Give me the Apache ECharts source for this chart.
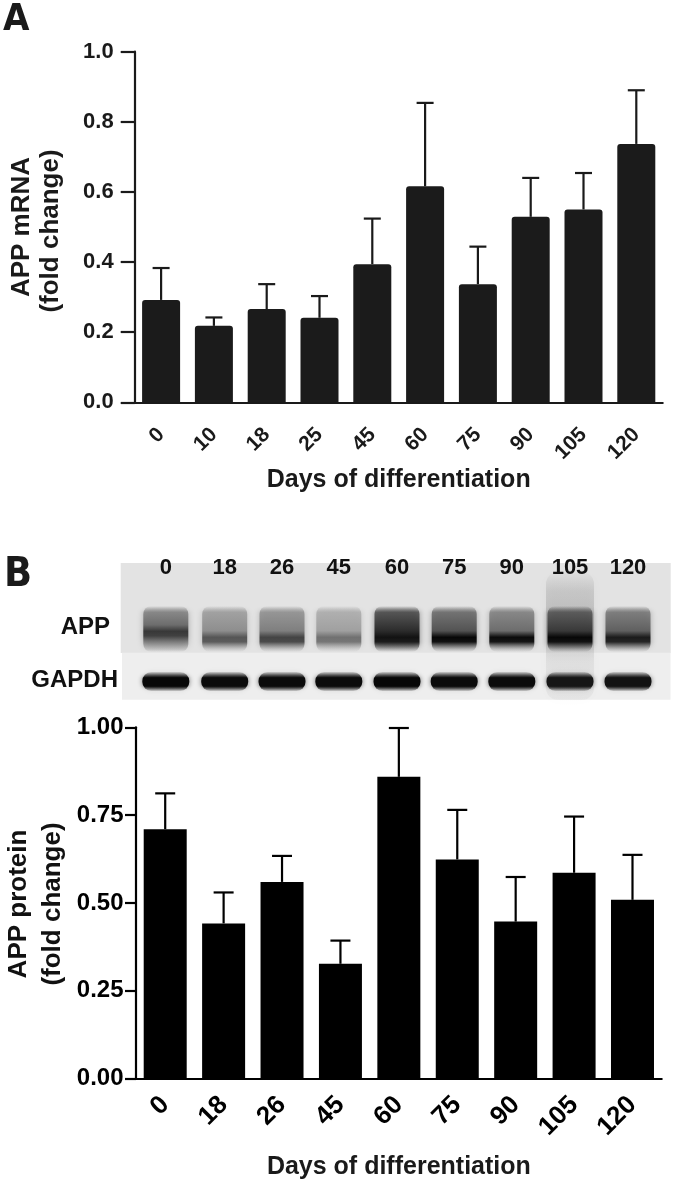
<!DOCTYPE html>
<html>
<head>
<meta charset="utf-8">
<script src="https://cdn.jsdelivr.net/npm/echarts@6/dist/echarts.min.js"></script>
<style>
html,body{margin:0;padding:0;background:#fff;}
#chart{width:675px;height:1182px;}
</style>
</head>
<body>
<div id="chart"></div>
<script>
// ---- Data ----
const categoriesA = ['0', '10', '18', '25', '45', '60', '75', '90', '105', '120'];
const mrnaMean = [0.292, 0.218, 0.266, 0.241, 0.394, 0.616, 0.337, 0.529, 0.550, 0.737];
const mrnaErr  = [0.091, 0.024, 0.071, 0.062, 0.130, 0.238, 0.107, 0.111, 0.104, 0.153];

const categoriesB = ['0', '18', '26', '45', '60', '75', '90', '105', '120'];
const proteinMean = [0.710, 0.442, 0.560, 0.327, 0.859, 0.624, 0.447, 0.586, 0.509];
const proteinErr  = [0.102, 0.088, 0.074, 0.066, 0.139, 0.141, 0.127, 0.160, 0.128];

const yTicksA = [0, 0.2, 0.4, 0.6, 0.8, 1.0];
const yTicksB = [0, 0.25, 0.5, 0.75, 1.0];

// Western blot lanes (labels + relative band darkness)
const blotLanes   = ['0', '18', '26', '45', '60', '75', '90', '105', '120'];
const appSmear    = [0.45, 0.32, 0.38, 0.25, 0.70, 0.55, 0.45, 0.65, 0.50];
const appBand     = [0.75, 0.62, 0.70, 0.50, 0.92, 0.97, 0.95, 0.97, 0.88];
const gapdhBand   = [0.97, 0.95, 0.95, 0.95, 0.97, 0.95, 0.95, 0.90, 0.92];

// ---- Layout ----
const FONT = "'Liberation Sans', Arial, sans-serif";
const chart = echarts.init(document.getElementById('chart'), null, {renderer: 'canvas'});

function errSeries(means, errs, xi, yi, capHalf, color) {
  return {
    type: 'custom',
    xAxisIndex: xi, yAxisIndex: yi,
    z: 3,
    encode: {x: 0, y: [1, 2]},
    data: means.map((m, i) => [i, m, m + errs[i]]),
    renderItem: function (params, api) {
      const x = api.value(0);
      const p0 = api.coord([x, api.value(1)]);
      const p1 = api.coord([x, api.value(2)]);
      const st = {stroke: color, lineWidth: 2.2};
      return {
        type: 'group',
        children: [
          {type: 'line', shape: {x1: p0[0], y1: p0[1], x2: p1[0], y2: p1[1]}, style: st},
          {type: 'line', shape: {x1: p0[0] - capHalf, y1: p1[1], x2: p0[0] + capHalf, y2: p1[1]}, style: st}
        ]
      };
    }
  };
}

// blot graphics
const laneX = [165.8, 224.7, 282, 338.8, 397, 454.2, 511.8, 570, 628];
const laneW = 45;
const blot = [];
blot.push({type: 'rect', shape: {x: 120.7, y: 563, width: 550, height: 90}, style: {fill: '#e3e3e3'}, z: 1});
blot.push({type: 'rect', shape: {x: 122, y: 652.7, width: 548.5, height: 47}, style: {fill: '#eeeeee'}, z: 1});
// smear in lane 105
blot.push({
  type: 'rect', shape: {x: laneX[7] - 24, y: 572, width: 48, height: 128, r: 12},
  style: {
    fill: {type: 'linear', x: 0, y: 0, x2: 0, y2: 1, colorStops: [
      {offset: 0, color: 'rgba(120,120,120,0.03)'},
      {offset: 0.15, color: 'rgba(120,120,120,0.22)'},
      {offset: 0.45, color: 'rgba(110,110,110,0.32)'},
      {offset: 0.7, color: 'rgba(140,140,140,0.12)'},
      {offset: 1, color: 'rgba(140,140,140,0.08)'}
    ]},
    shadowBlur: 8, shadowColor: 'rgba(120,120,120,0.3)'
  }, z: 2
});
blotLanes.forEach((lab, i) => {
  const cx = laneX[i];
  const s = appSmear[i], b = appBand[i];
  const bandPos = i === 0 ? 0.55 : 0.68;
  const g = v => Math.round(225 * (1 - Math.min(v, 1)));
  blot.push({
    type: 'rect', shape: {x: cx - laneW / 2, y: 606, width: laneW, height: 46, r: 8},
    style: {
      fill: {type: 'linear', x: 0, y: 0, x2: 0, y2: 1, colorStops: [
        {offset: 0, color: `rgba(${g(s)},${g(s)},${g(s)},0)`},
        {offset: 0.14, color: `rgba(${g(s)},${g(s)},${g(s)},0.8)`},
        {offset: bandPos - 0.14, color: `rgb(${g(s * 1.15)},${g(s * 1.15)},${g(s * 1.15)})`},
        {offset: bandPos, color: `rgb(${g(b)},${g(b)},${g(b)})`},
        {offset: bandPos + 0.1, color: `rgb(${g(b * 0.95)},${g(b * 0.95)},${g(b * 0.95)})`},
        {offset: 0.94, color: `rgba(${g(s)},${g(s)},${g(s)},0.25)`},
        {offset: 1, color: `rgba(${g(s)},${g(s)},${g(s)},0)`}
      ]},
      shadowBlur: 6, shadowColor: `rgba(${g(s)},${g(s)},${g(s)},0.6)`
    }, z: 3
  });
  const k = g(gapdhBand[i]);
  blot.push({
    type: 'rect', shape: {x: cx - laneW / 2 - 1, y: 672, width: laneW + 2, height: 19, r: 9},
    style: {
      fill: {type: 'linear', x: 0, y: 0, x2: 0, y2: 1, colorStops: [
        {offset: 0, color: 'rgba(60,60,60,0.15)'},
        {offset: 0.3, color: `rgb(${k},${k},${k})`},
        {offset: 0.75, color: `rgb(${k},${k},${k})`},
        {offset: 1, color: 'rgba(60,60,60,0.15)'}
      ]},
      shadowBlur: 5, shadowColor: 'rgba(0,0,0,0.5)'
    }, z: 3
  });
  blot.push({
    type: 'text', x: cx, y: 568, z: 5,
    style: {text: lab, fontFamily: FONT, fontWeight: 'bold', fontSize: 22, fill: '#111', align: 'center', verticalAlign: 'middle'}
  });
});

const option = {
  animation: false,
  backgroundColor: '#ffffff',
  grid: [
    {left: 134.7, top: 51.7, width: 528, height: 350.6},
    {left: 136, top: 727.3, width: 525.7, height: 351.4}
  ],
  xAxis: [
    {
      type: 'category', gridIndex: 0, data: categoriesA,
      name: 'Days of differentiation', nameLocation: 'middle', nameGap: 65,
      nameTextStyle: {fontFamily: FONT, fontWeight: 'bold', fontSize: 25, color: '#1a1a1a'},
      axisLine: {lineStyle: {color: '#1a1a1a', width: 2.2}},
      axisTick: {alignWithLabel: true, length: 14, lineStyle: {color: '#1a1a1a', width: 2.2}},
      axisLabel: {rotate: 45, margin: 29, fontFamily: FONT, fontWeight: 'bold', fontSize: 21, color: '#1a1a1a'}
    },
    {
      type: 'category', gridIndex: 1, data: categoriesB,
      name: 'Days of differentiation', nameLocation: 'middle', nameGap: 76,
      nameTextStyle: {fontFamily: FONT, fontWeight: 'bold', fontSize: 25, color: '#1a1a1a'},
      axisLine: {lineStyle: {color: '#000', width: 2.2}},
      axisTick: {alignWithLabel: true, length: 11, lineStyle: {color: '#000', width: 2.2}},
      axisLabel: {rotate: 45, margin: 22, fontFamily: FONT, fontWeight: 'bold', fontSize: 26, color: '#000'}
    }
  ],
  yAxis: [
    {
      type: 'value', gridIndex: 0, min: 0, max: 1, interval: 0.2,
      axisLine: {show: true, lineStyle: {color: '#1a1a1a', width: 2.2}},
      axisTick: {show: true, length: 14, lineStyle: {color: '#1a1a1a', width: 2.2}},
      splitLine: {show: false},
      axisLabel: {margin: 21, fontFamily: FONT, fontWeight: 'bold', fontSize: 22, color: '#1a1a1a',
        formatter: v => yTicksA.some(t => Math.abs(t - v) < 1e-9) ? v.toFixed(1) : ''}
    },
    {
      type: 'value', gridIndex: 1, min: 0, max: 1, interval: 0.25,
      axisLine: {show: true, lineStyle: {color: '#000', width: 2.2}},
      axisTick: {show: true, length: 11, lineStyle: {color: '#000', width: 2.2}},
      splitLine: {show: false},
      axisLabel: {margin: 12.5, fontFamily: FONT, fontWeight: 'bold', fontSize: 24, color: '#000',
        formatter: v => yTicksB.some(t => Math.abs(t - v) < 1e-9) ? v.toFixed(2) : ''}
    }
  ],
  series: [
    {
      type: 'bar', xAxisIndex: 0, yAxisIndex: 0, data: mrnaMean, barWidth: 38, z: 4,
      itemStyle: {color: '#1b1b1b', borderRadius: [3, 3, 0, 0]}
    },
    errSeries(mrnaMean, mrnaErr, 0, 0, 8.5, '#1a1a1a'),
    {
      type: 'bar', xAxisIndex: 1, yAxisIndex: 1, data: proteinMean, barWidth: 43, z: 4,
      itemStyle: {color: '#000'}
    },
    errSeries(proteinMean, proteinErr, 1, 1, 10, '#000')
  ],
  graphic: [
    {type: 'text', x: 3, y: 20, style: {text: 'A', fontFamily: "'DejaVu Sans Condensed','DejaVu Sans',sans-serif", fontWeight: 'bold', fontSize: 38, fill: '#1a1a1a', verticalAlign: 'middle'}},
    {type: 'text', x: 4, y: 575, style: {text: 'B', fontFamily: "'DejaVu Sans Condensed','DejaVu Sans',sans-serif", fontWeight: 'bold', fontSize: 41, fill: '#1a1a1a', verticalAlign: 'middle'}},
    {type: 'text', x: 22, y: 227, rotation: Math.PI / 2, style: {text: 'APP mRNA', fontFamily: FONT, fontWeight: 'bold', fontSize: 26, fill: '#1a1a1a', align: 'center', verticalAlign: 'middle'}},
    {type: 'text', x: 51, y: 231, rotation: Math.PI / 2, style: {text: '(fold change)', fontFamily: FONT, fontWeight: 'bold', fontSize: 26, fill: '#1a1a1a', align: 'center', verticalAlign: 'middle'}},
    {type: 'text', x: 19, y: 904, rotation: Math.PI / 2, style: {text: 'APP protein', fontFamily: FONT, fontWeight: 'bold', fontSize: 26, fill: '#111', align: 'center', verticalAlign: 'middle'}},
    {type: 'text', x: 53, y: 904, rotation: Math.PI / 2, style: {text: '(fold change)', fontFamily: FONT, fontWeight: 'bold', fontSize: 26, fill: '#111', align: 'center', verticalAlign: 'middle'}},
    {type: 'text', x: 110, y: 627, style: {text: 'APP', fontFamily: FONT, fontWeight: 'bold', fontSize: 24, fill: '#111', align: 'right', verticalAlign: 'middle'}},
    {type: 'text', x: 118, y: 680, style: {text: 'GAPDH', fontFamily: FONT, fontWeight: 'bold', fontSize: 24, fill: '#111', align: 'right', verticalAlign: 'middle'}}
  ].concat(blot)
};
chart.setOption(option);
</script>
</body>
</html>
